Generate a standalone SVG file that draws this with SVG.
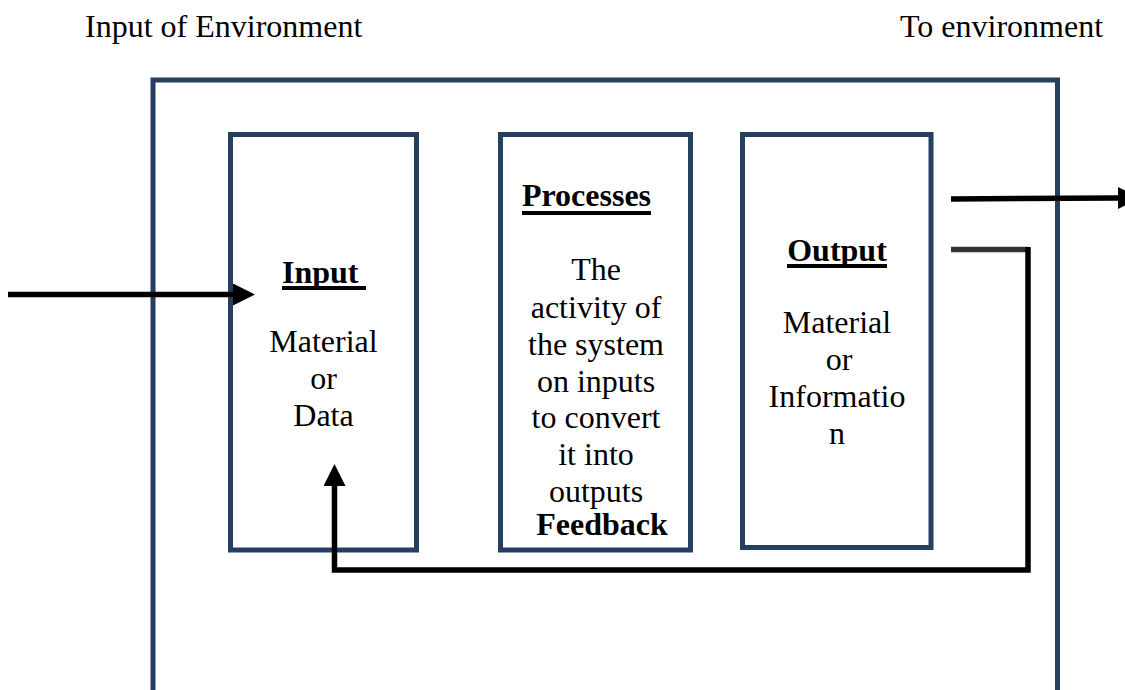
<svg xmlns="http://www.w3.org/2000/svg" width="1125" height="690" viewBox="0 0 1125 690">
  <style>
    .frame { fill: #ffffff; stroke: #243F60; stroke-width: 5; }
    .label { font-family: "Liberation Serif", "Times New Roman", serif; font-size: 32px; fill: #000000; }
    .mid { text-anchor: middle; }
    .head { font-weight: bold; }
    .rule { stroke: #000000; stroke-width: 4; }
    .wire { fill: none; stroke: #000000; stroke-width: 5.5; }
  </style>
  <defs>
    <marker id="arrow" markerUnits="userSpaceOnUse" markerWidth="22" markerHeight="22" viewBox="0 0 20 20" refX="0" refY="10" orient="auto">
      <path d="M0,0 L20,10 L0,20 Z" fill="#000000"/>
    </marker>
  </defs>

  <rect width="1125" height="690" fill="#ffffff"/>

  <!-- environment labels -->
  <text class="label" x="85" y="37">Input of Environment</text>
  <text class="label" x="900" y="37">To environment</text>

  <!-- system boundary -->
  <g id="system">
    <rect class="frame" x="153" y="80" width="904.5" height="620"/>
  </g>

  <g id="input">
    <rect class="frame" x="230.5" y="134.5" width="186" height="415.5"/>
    <text class="label head" x="282" y="283">Input</text>
    <line class="rule" x1="282" y1="288" x2="366" y2="288"/>
    <text class="label mid" x="323.5" y="352">Material</text>
    <text class="label mid" x="323.5" y="389">or</text>
    <text class="label mid" x="323.5" y="426">Data</text>
  </g>

  <g id="processes">
    <rect class="frame" x="500.5" y="134.5" width="190" height="415.5"/>
    <text class="label mid head" x="586.5" y="206">Processes</text>
    <line class="rule" x1="522" y1="213" x2="651" y2="213"/>
    <text class="label mid" x="596" y="280">The</text>
    <text class="label mid" x="596" y="318">activity of</text>
    <text class="label mid" x="596" y="355">the system</text>
    <text class="label mid" x="596" y="392">on inputs</text>
    <text class="label mid" x="596" y="428">to convert</text>
    <text class="label mid" x="596" y="465">it into</text>
    <text class="label mid" x="596" y="502">outputs</text>
    <text class="label mid head" x="602" y="535">Feedback</text>
  </g>

  <g id="output">
    <rect class="frame" x="742.5" y="134.5" width="188.5" height="413"/>
    <text class="label mid head" x="837" y="261">Output</text>
    <line class="rule" x1="787" y1="266" x2="887" y2="266"/>
    <text class="label mid" x="837" y="333">Material</text>
    <text class="label mid" x="839" y="370">or</text>
    <text class="label mid" x="837" y="407">Informatio</text>
    <text class="label mid" x="837" y="444">n</text>
  </g>

  <g id="connectors">
    <!-- environment into input -->
    <line class="wire" x1="8" y1="294.5" x2="233" y2="294.5" marker-end="url(#arrow)"/>
    <!-- output to environment -->
    <line class="wire" x1="951" y1="199" x2="1118" y2="198" marker-end="url(#arrow)"/>
    <!-- feedback loop back to input -->
    <path d="M951,249.5 L1028,249.5" fill="none" stroke="#333333" stroke-width="5.5"/>
    <path class="wire" d="M1028,247 L1028,570 L334.5,570 L334.5,486" marker-end="url(#arrow)"/>
  </g>
</svg>
